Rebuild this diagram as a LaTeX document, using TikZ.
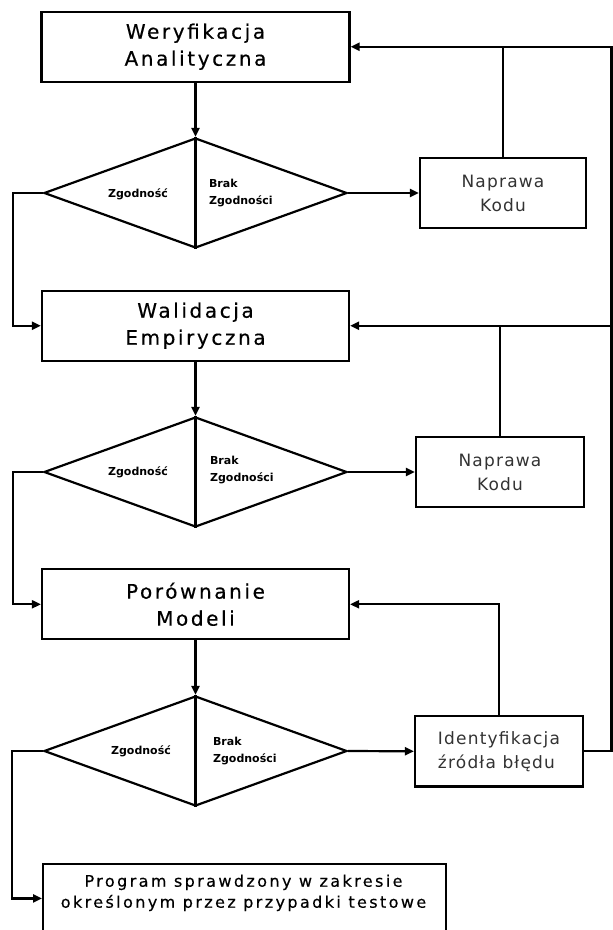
\documentclass[tikz,border=0pt]{standalone}
\usepackage{fontspec}
\setmainfont{DejaVu Sans}
\newfontfamily\titlefont[LetterSpace=13,FakeBold=0.4]{DejaVu Sans}
\newfontfamily\lightfont[LetterSpace=7]{DejaVu Sans}
\newfontfamily\botfont[LetterSpace=15,FakeBold=0.4]{DejaVu Sans}
\newfontfamily\labfont{DejaVu Sans}
\usetikzlibrary{shapes.geometric,arrows.meta}
\begin{document}
\begin{tikzpicture}[x=1pt,y=-1pt,line width=2.2pt,
  titlebox/.style={draw, rectangle, minimum width=308pt, minimum height=70pt, inner sep=0pt, align=center, font=\titlefont\fontsize{20}{27}\selectfont},
  fixbox/.style={draw, rectangle, minimum width=168pt, minimum height=70.5pt, inner sep=0pt, align=center, text=black!80, font=\lightfont\fontsize{17}{24}\selectfont},
  decide/.style={draw, diamond, minimum width=303pt, minimum height=110pt, inner sep=0pt},
  lab/.style={font=\labfont\bfseries\fontsize{11}{17}\selectfont, inner sep=0pt},
  progbox/.style={draw, rectangle, minimum width=403pt, minimum height=69.2pt, inner sep=0pt, anchor=north west},
  progtext/.style={inner sep=0pt, align=center, font=\botfont\fontsize{16}{21}\selectfont},
  arr/.style={-{Triangle[length=9pt,width=8pt]}}]
\useasboundingbox (0,0) rectangle (613,930);
\clip (0,0) rectangle (613,930);
\fill[white] (0,0) rectangle (613,930);

% first stage
\node[titlebox] (ver) at (195.5,46.7) {Weryfikacja\\Analityczna};
\node[decide] (d1) at (195.5,193) {};
\draw (d1.north) -- (d1.south);
\node[lab] (z1) at (138,194) {Zgodność};
\node[lab, anchor=west, align=left] (b1) at (208,193) {Brak\\Zgodności};
\node[fixbox, minimum width=166pt] (n1) at (503,193) {Naprawa\\Kodu};

% second stage
\node[titlebox, minimum width=307pt] (wal) at (195.5,325.7) {Walidacja\\Empiryczna};
\node[decide] (d2) at (195.5,472) {};
\draw (d2.north) -- (d2.south);
\node[lab] (z2) at (138,472.5) {Zgodność};
\node[lab, anchor=west, align=left] (b2) at (209,470) {Brak\\Zgodności};
\node[fixbox] (n2) at (500,472) {Naprawa\\Kodu};

% third stage
\node[titlebox, minimum width=307pt] (por) at (195.5,604.3) {Porównanie\\Modeli};
\node[decide] (d3) at (195.5,751) {};
\draw (d3.north) -- (d3.south);
\node[lab] (z3) at (141,751) {Zgodność};
\node[lab, anchor=west, align=left] (b3) at (212,751) {Brak\\Zgodności};
\node[fixbox, align=left] (ide) at (499,751.3) {Identyfikacja\\źródła błędu};

% final
\node[progbox] (prog) at (42,862.7) {};
\node[progtext] (progt) at (243.5,892.8) {Program sprawdzony w zakresie\\określonym przez przypadki testowe};

\coordinate (R) at (611.5,0);

% connectors
\draw[arr] (ver.south) -- (d1.north);
\draw[arr] (d1.east) -- (n1.west);
\draw[arr] (d1.west) -- ++(-30,0) |- (wal.west);
\draw (n1.north) -- (n1.north |- ver.east);

\draw[arr] (wal.south) -- (d2.north);
\draw[arr] (d2.east) -- (n2.west);
\draw[arr] (d2.west) -- ++(-30,0) |- (por.west);
\draw (n2.north) -- (n2.north |- wal.east);
\draw[arr] (wal.east -| R) -- (wal.east);

\draw[arr] (por.south) -- (d3.north);
\draw[arr] (d3.east) -- (ide.west);
\draw[arr] (ide.north) |- (por.east);
\draw[arr] (ide.east) -- (ide.east -| R) |- (ver.east);
\draw[arr] (d3.west) -- ++(-31,0) |- (prog.west);
\end{tikzpicture}
\end{document}
